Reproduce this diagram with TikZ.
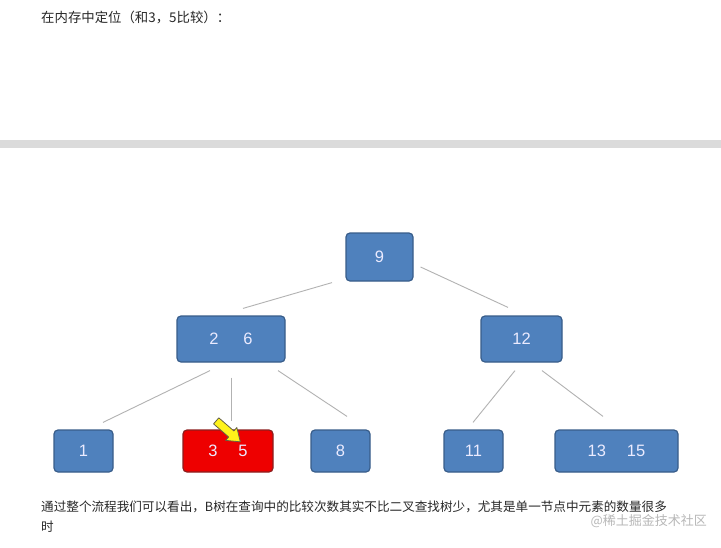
\documentclass[tikz,border=0pt]{standalone}
\usepackage{fontspec}
\usetikzlibrary{calc}
\setmainfont{Liberation Sans}
\newfontfamily\cjk{Noto Sans CJK SC}
\definecolor{boxblue}{RGB}{79,129,189}
\definecolor{boxedge}{RGB}{56,93,138}
\definecolor{boxred}{RGB}{238,0,0}
\definecolor{rededge}{RGB}{140,30,30}
\definecolor{txtgray}{RGB}{40,40,40}
\tikzset{
  keybox/.style={draw=boxedge, fill=boxblue, line width=1.2pt, rounded corners=4pt,
    text=white!92!blue, font=\fontsize{16.5}{16}\selectfont, inner sep=0pt},
  hitbox/.style={keybox, draw=rededge, fill=boxred},
  link/.style={draw=black!30, line width=0.9pt},
  note/.style={anchor=west, inner sep=0pt, text=txtgray, font=\cjk\fontsize{12.6}{14}\selectfont}
}
\begin{document}
\begin{tikzpicture}[x=1pt, y=-1pt]
\useasboundingbox[fill=white] (0,0) rectangle (721,547);

% Captions
\node[note, font=\cjk\fontsize{13.4}{14}\selectfont] (top) at (41,17) {在内存中定位（和3，5比较）：};
\fill[black!14] (0,140) rectangle (721,148);

% Draw nodes
\node[keybox, minimum width=67pt, minimum height=48pt] (n9) at (379.5,257) {9};
\node[keybox, minimum width=108pt, minimum height=46pt] (n26) at (231,339) {2\hspace{25pt}6};
\node[keybox, minimum width=81pt, minimum height=46pt] (n12) at (521.5,339) {12};
\node[keybox, minimum width=59pt, minimum height=42pt] (n1) at (83.5,451) {1};
\node[hitbox, minimum width=90pt, minimum height=42pt] (n35) at (228,451) {3\hspace{21pt}5};
\node[keybox, minimum width=59pt, minimum height=42pt] (n8) at (340.5,451) {8};
\node[keybox, minimum width=59pt, minimum height=42pt] (n11) at (473.5,451) {11};
\node[keybox, minimum width=123pt, minimum height=42pt] (n1315) at (616.5,451) {13\hspace{21pt}15};

% Draw links (they stop short of the boxes)
\draw[link] ($(n9.south)+(-47.5,1)$) -- ($(n26.north)+(12,-7)$);
\draw[link] ($(n9.east)+(7,10)$) -- ($(n12.north)+(-13.5,-8)$);
\draw[link] ($(n26.south)+(-21,8)$) -- ($(n1.north)+(19.5,-7)$);
\draw[link] ($(n26.south)+(0,15)$) -- ($(n35.north)+(3,-8)$);
\draw[link] ($(n26.south)+(47,8)$) -- ($(n8.north)+(6.5,-13)$);
\draw[link] ($(n12.south)+(-6.5,8)$) -- ($(n11.north)+(-0.5,-7)$);
\draw[link] ($(n12.south)+(20.5,8)$) -- ($(n1315.north)+(-13.5,-13)$);

% Yellow pointer
\begin{scope}[shift={(229,432)}, rotate=-41]
\filldraw[fill=yellow!90!white, draw=black!70!yellow, line width=0.8pt, line join=round]
  (-17,-4) -- (3,-4) -- (3,-8.5) -- (15,0) -- (3,8.5) -- (3,4) -- (-17,4) -- cycle;
\end{scope}

% Bottom text
\node[note] (l1) at (41,507) {通过整个流程我们可以看出，B树在查询中的比较次数其实不比二叉查找树少，尤其是单一节点中元素的数量很多};
\node[note] (l2) at (41,527) {时};
\node[anchor=east, inner sep=0pt, text=black!28, font=\cjk\fontsize{13}{14}\selectfont] (wm) at (707,521) {@稀土掘金技术社区};
\end{tikzpicture}
\end{document}
